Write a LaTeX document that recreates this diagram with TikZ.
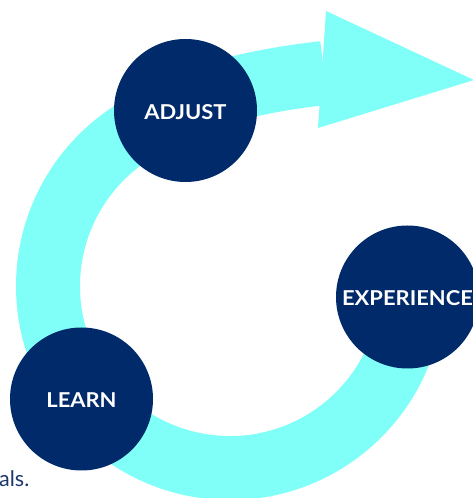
\documentclass[tikz,border=0pt]{standalone}
\usepackage{fontspec}
\setmainfont{Lato}
\newfontfamily\stagefont{Lato}[FakeStretch=1.07]
\definecolor{bandcyan}{RGB}{128,255,248}
\definecolor{navy}{RGB}{0,42,106}
\definecolor{textnavy}{RGB}{28,55,110}
\newcommand{\stagelabel}[1]{\raisebox{-9pt}[0pt][0pt]{#1}}
\tikzset{
  band/.style={draw=bandcyan, line width=64pt},
  headfill/.style={fill=bandcyan},
  stage/.style={circle, fill=navy, minimum size=143pt, inner sep=0pt, text=white,
    font=\stagefont\fontsize{20.5}{24}\selectfont\bfseries},
  bodytext/.style={text=textnavy, inner sep=0pt, font=\fontsize{21.5}{25}\selectfont},
}
\begin{document}
\begin{tikzpicture}[x=1pt,y=1pt]
\useasboundingbox (0,0) rectangle (473,498);
\clip (0,0) rectangle (473,498);
% band (arc + shaft)
\coordinate (bandstart) at (411.3,196.1);
\coordinate (shaftend) at (324,425);
\draw[band] (bandstart) arc[start angle=-5, end angle=-235, radius=182]
  .. controls (182.9,401.2) and (250.5,416.5) .. (shaftend);
% arrow head
\coordinate (headtop) at (326,487);
\coordinate (headtip) at (474,418);
\coordinate (headbot) at (318,370);
\fill[headfill] (headtop) -- (headtip) -- (headbot) -- cycle;
% stages
\node[stage] (adjust) at (185.5,387.5) {\stagelabel{ADJUST}};
\node[stage] (experience) at (407.5,201) {\stagelabel{EXPERIENCE}};
\node[stage] (learn) at (81.5,99) {\stagelabel{LEARN}};
% clipped text
\node[bodytext, anchor=base west] (tail) at (-1,12) {als.};
\end{tikzpicture}
\end{document}
